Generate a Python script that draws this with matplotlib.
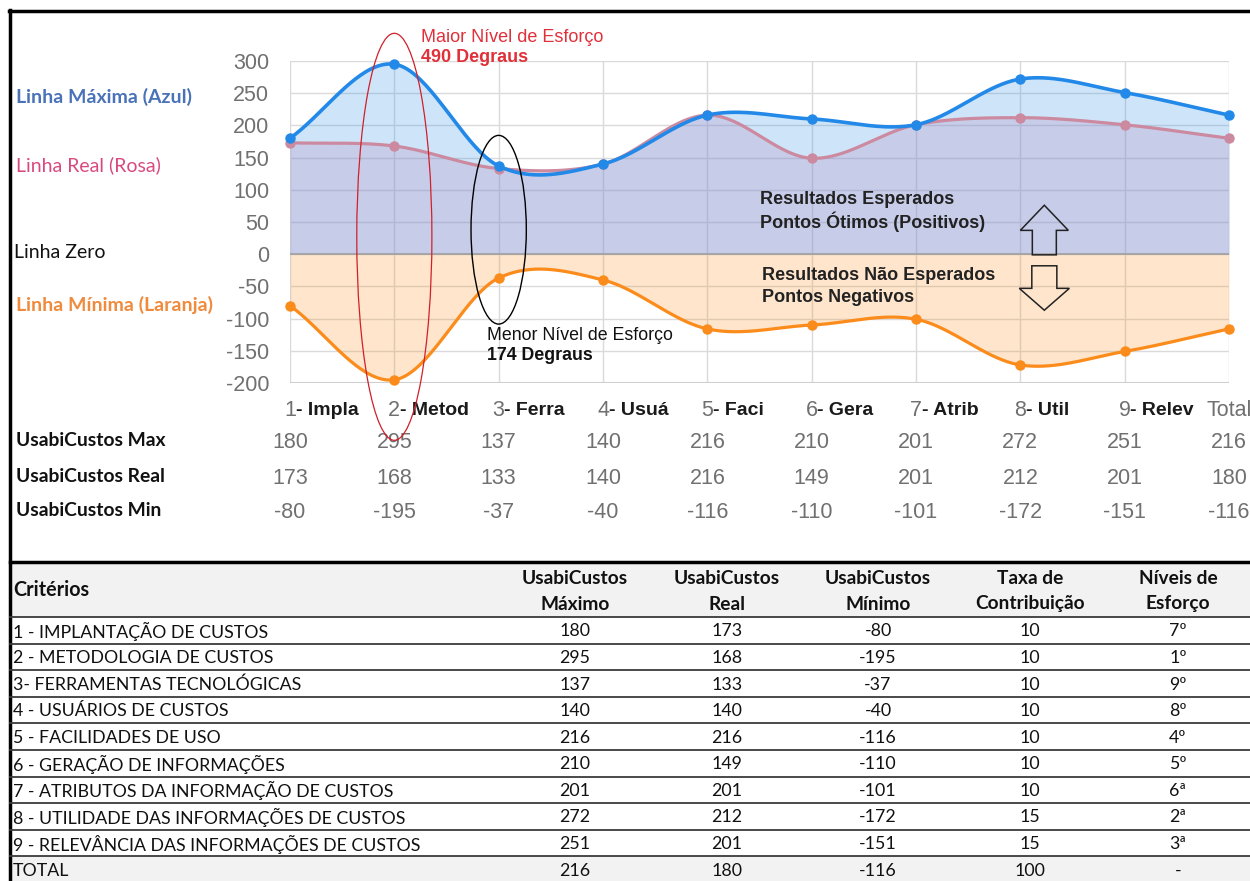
import numpy as np
import matplotlib
matplotlib.use("Agg")
import matplotlib.pyplot as plt
from matplotlib import transforms
from matplotlib.lines import Line2D
from matplotlib.patches import Ellipse, Rectangle, FancyArrow

plt.rcParams['font.family'] = ['Liberation Sans', 'DejaVu Sans']
plt.rcParams['axes.unicode_minus'] = False

# data
tick_nums = ["1", "2", "3", "4", "5", "6", "7", "8", "9", "Total"]
tick_names = ["- Impla", "- Metod", "- Ferra", "- Usuá", "- Faci", "- Gera", "- Atrib", "- Util", "- Relev", ""]
usabi_max = [180, 295, 137, 140, 216, 210, 201, 272, 251, 216]
usabi_real = [173, 168, 133, 140, 216, 149, 201, 212, 201, 180]
usabi_min = [-80, -195, -37, -40, -116, -110, -101, -172, -151, -116]
criterios = ["1 - IMPLANTAÇÃO DE CUSTOS", "2 - METODOLOGIA DE CUSTOS", "3- FERRAMENTAS TECNOLÓGICAS",
             "4 - USUÁRIOS DE CUSTOS", "5 - FACILIDADES DE USO", "6 - GERAÇÃO DE INFORMAÇÕES",
             "7 - ATRIBUTOS DA INFORMAÇÃO DE CUSTOS", "8 - UTILIDADE DAS INFORMAÇÕES DE CUSTOS",
             "9 - RELEVÂNCIA DAS INFORMAÇÕES DE CUSTOS", "TOTAL"]
taxa = [10, 10, 10, 10, 10, 10, 10, 15, 15, 100]
niveis = ["7º", "1º", "9º", "8º", "4º", "5º", "6ª", "2ª", "3ª", "-"]

W, H = 1250, 881


def fx(x):
    return x / W


def fy(y):
    return 1 - y / H


def smooth(vals, n=40):
    # catmull-rom style curve through the points (like google charts "function" curves)
    y = np.asarray(vals, float)
    m = np.empty_like(y)
    m[1:-1] = (y[2:] - y[:-2]) / 2
    m[0] = y[1] - y[0]
    m[-1] = y[-1] - y[-2]
    xs, ys = [], []
    t = np.linspace(0, 1, n, endpoint=False)
    h00 = 2 * t**3 - 3 * t**2 + 1
    h10 = t**3 - 2 * t**2 + t
    h01 = -2 * t**3 + 3 * t**2
    h11 = t**3 - t**2
    for i in range(len(y) - 1):
        xs.append(i + t)
        ys.append(h00 * y[i] + h10 * m[i] + h01 * y[i + 1] + h11 * m[i + 1])
    xs.append([len(y) - 1])
    ys.append([y[-1]])
    return np.concatenate(xs), np.concatenate(ys)


fig = plt.figure(figsize=(12.5, 8.81), dpi=100)
ax = fig.add_axes([fx(290), fy(383), fx(1229) - fx(290), fy(61) - fy(383)])

c_max, c_real, c_min = '#2389e8', '#cc8aa0', '#fb8c1b'
x = np.arange(len(usabi_max))

sx, smax = smooth(usabi_max)
_, sreal = smooth(usabi_real)
_, smin = smooth(usabi_min)

ax.fill_between(sx, 0, smax, color=c_max, alpha=0.22, lw=0, zorder=1)
ax.fill_between(sx, 0, sreal, color='#b486ba', alpha=0.25, lw=0, zorder=1.1)
ax.fill_between(sx, 0, smin, color=c_min, alpha=0.22, lw=0, zorder=1)

ax.plot(sx, sreal, color=c_real, lw=2.3, zorder=3, clip_on=False)
ax.plot(x, usabi_real, 'o', color=c_real, ms=6.5, zorder=3, clip_on=False)
ax.plot(sx, smin, color=c_min, lw=2.3, zorder=3, clip_on=False)
ax.plot(x, usabi_min, 'o', color=c_min, ms=6.5, zorder=3, clip_on=False)
ax.plot(sx, smax, color=c_max, lw=2.6, zorder=4, clip_on=False)
ax.plot(x, usabi_max, 'o', color=c_max, ms=6.5, zorder=4, clip_on=False)

ax.set_xlim(0, 9)
ax.set_ylim(-200, 300)
ax.set_xticks(x)
ax.set_xticklabels([])
ax.set_yticks(range(-200, 301, 50))
ax.tick_params(axis='both', length=0)
ax.tick_params(axis='y', pad=15, labelsize=15.5, labelcolor='#707070')
ax.grid(True, color='#dadada', lw=1)
ax.set_axisbelow(True)
for s in ax.spines.values():
    s.set_visible(False)
ax.axhline(0, color='#a0a0a0', lw=1.2, zorder=1.5)
ax.axhline(-200, color='#cfcfcf', lw=1.5, zorder=1.5)
ax.patch.set_alpha(0)

# ellipses for highest / lowest effort
i_hi = int(np.argmin(usabi_min))
i_lo = int(np.argmax(usabi_min))
ax.add_patch(Ellipse((i_hi, 27), 0.72, 632, fill=False, ec='#d0202a', lw=0.9, zorder=6, clip_on=False))
ax.add_patch(Ellipse((i_lo, 38), 0.53, 293, fill=False, ec='black', lw=1.0, zorder=6, clip_on=False))

fig.text(fx(421), fy(38), "Maior Nível de Esforço", color='#e0303a', fontsize=13, va='center')
fig.text(fx(421), fy(58), f"{usabi_max[i_hi] - usabi_min[i_hi]} Degraus", color='#e0303a',
         fontsize=13, fontweight='bold', va='center')
fig.text(fx(487), fy(336), "Menor Nível de Esforço", color='#111111', fontsize=12.8, va='center')
fig.text(fx(487), fy(355), f"{usabi_max[i_lo] - usabi_min[i_lo]} Degraus", color='#111111',
         fontsize=12.8, fontweight='bold', va='center')

fig.text(fx(760), fy(200), "Resultados Esperados", color='#222222', fontsize=13, fontweight='bold', va='center')
fig.text(fx(760), fy(222), "Pontos Ótimos (Positivos)", color='#222222', fontsize=13, fontweight='bold', va='center')
fig.text(fx(762), fy(276), "Resultados Não Esperados", color='#222222', fontsize=13, fontweight='bold', va='center')
fig.text(fx(762), fy(297), "Pontos Negativos", color='#222222', fontsize=13, fontweight='bold', va='center')

ax.add_patch(FancyArrow(7.23, -1, 0, 77, width=0.23, head_width=0.46, head_length=39,
                        length_includes_head=True, fill=False, ec='#222222', lw=1.1, zorder=6, clip_on=False))
ax.add_patch(FancyArrow(7.23, -18, 0, -69, width=0.24, head_width=0.48, head_length=34,
                        length_includes_head=True, fill=False, ec='#222222', lw=1.1, zorder=6, clip_on=False))

# left side labels
cal = ['Lato', 'DejaVu Sans']
fig.text(fx(16), fy(97), "Linha Máxima (Azul)", color='#4a72b8', fontsize=14, fontweight='bold', family=cal, va='center')
fig.text(fx(16), fy(165), "Linha Real (Rosa)", color='#d84a7e', fontsize=14, family=cal, va='center')
fig.text(fx(14), fy(252), "Linha Zero", color='#111111', fontsize=14, family=cal, va='center')
fig.text(fx(16), fy(305), "Linha Mínima (Laranja)", color='#f08a3c', fontsize=14, fontweight='bold', family=cal, va='center')

# category labels and value rows
tr = transforms.blended_transform_factory(ax.transData, fig.transFigure)
for i in x:
    ax.text(i, fy(410), tick_nums[i], transform=tr, ha='center', va='center', fontsize=15.5, color='#707070')
    if tick_names[i]:
        ax.annotate(tick_names[i], xy=(i, fy(410)), xycoords=tr, xytext=(4, 0), textcoords='offset points',
                    ha='left', va='center', fontsize=14, fontweight='bold', color='#1a1a1a')

rows = [("UsabiCustos Max", usabi_max, 441), ("UsabiCustos Real", usabi_real, 477), ("UsabiCustos Min", usabi_min, 511)]
for name, vals, ypx in rows:
    fig.text(fx(16), fy(ypx), name, fontsize=13.9, fontweight='bold', family=cal, va='center', color='#111111')
    for i, v in enumerate(vals):
        ax.text(i, fy(ypx + 2), str(v), transform=tr, ha='center', va='center', fontsize=15.5, color='#707070')

# frame
fig.add_artist(Line2D([fx(9), fx(1250)], [fy(11), fy(11)], color='black', lw=2.5))
fig.add_artist(Line2D([fx(10), fx(10)], [fy(10), fy(881)], color='black', lw=2.5))

# table
row_top, row_h = 617, 26.6
col_x = [575, 727, 878, 1030, 1178]
fig.add_artist(Rectangle((fx(11), fy(row_top)), fx(1250) - fx(11), fy(563) - fy(row_top),
                         color='#f2f2f2', lw=0, zorder=0))
fig.add_artist(Rectangle((fx(11), fy(row_top + 10 * row_h)), fx(1250) - fx(11), row_h / H,
                         color='#f2f2f2', lw=0, zorder=0))
fig.add_artist(Line2D([fx(10), fx(1250)], [fy(562), fy(562)], color='black', lw=2.5))
for k in range(10):
    yy = row_top + k * row_h
    fig.add_artist(Line2D([fx(10), fx(1250)], [fy(yy), fy(yy)], color='#3a3a3a', lw=1.3))

fig.text(fx(13), fy(590), "Critérios", fontsize=14.2, fontweight='bold', family=cal, va='center', color='#111111')
headers = [("UsabiCustos", "Máximo"), ("UsabiCustos", "Real"), ("UsabiCustos", "Mínimo"),
           ("Taxa de", "Contribuição"), ("Níveis de", "Esforço")]
for cx, (h1, h2) in zip(col_x, headers):
    fig.text(fx(cx), fy(578), h1, fontsize=13.8, fontweight='bold', family=cal, ha='center', va='center', color='#111111')
    fig.text(fx(cx), fy(604), h2, fontsize=13.8, fontweight='bold', family=cal, ha='center', va='center', color='#111111')

for k in range(10):
    yc = row_top + (k + 0.5) * row_h + 1
    fig.text(fx(13), fy(yc), criterios[k], fontsize=12.8, family=cal, va='center', color='#111111')
    cells = [usabi_max[k], usabi_real[k], usabi_min[k], taxa[k], niveis[k]]
    for cx, c in zip(col_x, cells):
        fig.text(fx(cx), fy(yc), str(c), fontsize=12.8, family=cal, ha='center', va='center', color='#111111')

fig.savefig('out.png', dpi=100)
